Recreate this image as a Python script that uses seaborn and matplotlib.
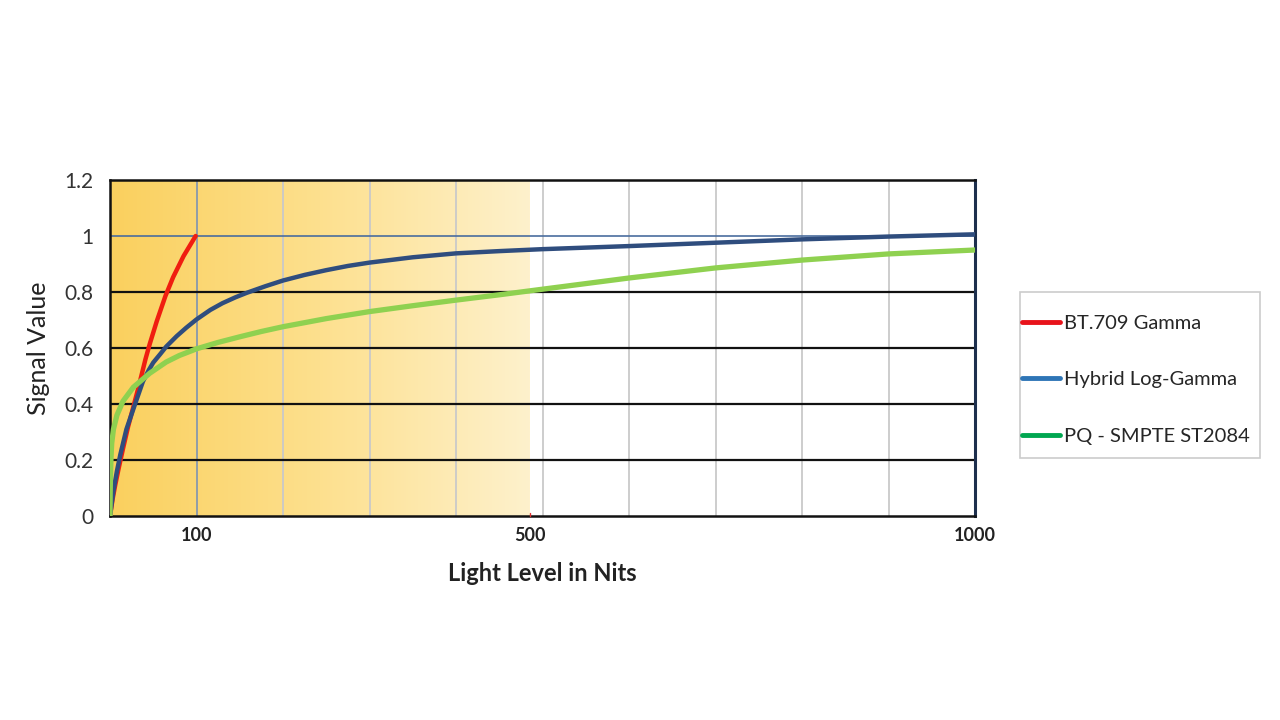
import numpy as np
import pandas as pd
import seaborn as sns
import matplotlib.pyplot as plt
from matplotlib.colors import LinearSegmentedColormap
from matplotlib.lines import Line2D
from matplotlib.patches import Rectangle

# curves (nits, signal value)
bt709_nits = [0, 3, 6, 10, 15, 21, 27, 33, 37, 41, 46, 54, 64, 73, 85, 99]
bt709_val = [0, 0.06, 0.11, 0.17, 0.24, 0.32, 0.39, 0.46, 0.51, 0.56, 0.615, 0.695, 0.785, 0.853, 0.928, 1.0]

hlg_nits = [0, 4, 8, 12, 19, 29, 38, 45, 50, 58, 65, 77, 88, 100, 116, 130, 145, 158, 180, 200, 225, 250,
            275, 300, 350, 400, 450, 500, 600, 700, 800, 900, 1000]
hlg_val = [0, 0.09, 0.16, 0.22, 0.31, 0.40, 0.48, 0.522, 0.548, 0.578, 0.605, 0.642, 0.672, 0.702, 0.736,
           0.760, 0.781, 0.797, 0.821, 0.841, 0.861, 0.878, 0.893, 0.905, 0.924, 0.938, 0.946, 0.953, 0.964,
           0.976, 0.988, 0.998, 1.006]

pq_nits = [0, 0.2, 0.6, 1.2, 2, 4, 8, 15, 27, 46, 65, 80, 100, 125, 150, 175, 200, 250, 300, 350, 400, 450,
           500, 600, 700, 800, 900, 1000]
pq_val = [0, 0.08, 0.15, 0.21, 0.26, 0.31, 0.36, 0.41, 0.46, 0.51, 0.55, 0.573, 0.597, 0.62, 0.64, 0.659,
          0.676, 0.705, 0.73, 0.751, 0.771, 0.79, 0.81, 0.85, 0.886, 0.914, 0.936, 0.95]

series_names = ["BT.709 Gamma", "Hybrid Log-Gamma", "PQ - SMPTE ST2084"]
line_colors = ["#f01d10", "#2f4d7e", "#8fd150"]
legend_colors = ["#e8131b", "#2e75b6", "#00a650"]

y_ticks = [0, 0.2, 0.4, 0.6, 0.8, 1.0, 1.2]
y_tick_labels = ["0", "0.2", "0.4", "0.6", "0.8", "1", "1.2"]
x_tick_pos = [100, 485, 1000]
x_tick_labels = ["100", "500", "1000"]
shade_end = 485

df = pd.concat([
    pd.DataFrame({"nits": bt709_nits, "val": bt709_val, "curve": series_names[0]}),
    pd.DataFrame({"nits": hlg_nits, "val": hlg_val, "curve": series_names[1]}),
    pd.DataFrame({"nits": pq_nits, "val": pq_val, "curve": series_names[2]}),
])

sns.set_style("white")
plt.rcParams["font.family"] = ["Lato", "DejaVu Sans"]

fig = plt.figure(figsize=(12.8, 7.2), dpi=100)
ax = fig.add_axes([110 / 1280, 1 - 516 / 720, 865 / 1280, 336 / 720])

# yellow fade behind the SDR range
cmap = LinearSegmentedColormap.from_list("fade", ["#fad05e", "#fde08e", "#fef1cc"])
grad = np.linspace(0, 1, 256).reshape(1, -1)
ax.imshow(grad, cmap=cmap, aspect="auto", extent=[0, shade_end, 0, 1.2], zorder=0)

# grid
for x in range(200, 1000, 100):
    ax.axvline(x, color="#c9c9c9", lw=1.3, zorder=1)
ax.axvline(100, color="#7d93b3", lw=1.2, zorder=1)
for y in [0.2, 0.4, 0.6, 0.8]:
    ax.axhline(y, color="#111111", lw=1.6, zorder=1)
ax.axhline(1.0, color="#4a6d9e", lw=1.2, zorder=1)

sns.lineplot(data=df, x="nits", y="val", hue="curve", palette=dict(zip(series_names, line_colors)),
             linewidth=3.2, sort=False, legend=False, ax=ax, zorder=3)
ax.lines[-1].set_linewidth(3.8)
for ln in ax.lines[-3:]:
    ln.set_solid_joinstyle("round")

ax.set_xlim(0, 1000)
ax.set_ylim(0, 1.2)
ax.set_yticks(y_ticks)
ax.set_yticklabels(y_tick_labels, fontsize=15, color="#333333")
ax.set_xticks(x_tick_pos)
ax.set_xticklabels(x_tick_labels, fontsize=13, fontweight="bold", color="#222222")
ax.tick_params(axis="y", length=0, pad=12)
ax.tick_params(axis="x", length=0, pad=8)
ax.plot([shade_end, shade_end], [0, 0.012], color="#e03030", lw=1, clip_on=False, zorder=4)

ax.set_xlabel("Light Level in Nits", fontsize=17, fontweight="bold", color="#222222", labelpad=13)
ax.set_ylabel("Signal Value", fontsize=18, color="#222222", labelpad=10)

for side in ["left", "bottom", "top"]:
    ax.spines[side].set_color("#111111")
    ax.spines[side].set_linewidth(1.8)
ax.spines["right"].set_color("#1d2f4d")
ax.spines["right"].set_linewidth(2.2)

# legend box drawn separately so padding can differ per side
fig.patches.append(Rectangle((1020 / 1280, 1 - 458 / 720), 240 / 1280, 166 / 720, transform=fig.transFigure,
                             facecolor="white", edgecolor="#cccccc", lw=1.2))
handles = [Line2D([], [], color=c, lw=3.5) for c in legend_colors]
leg = fig.legend(handles, series_names, loc="upper left", bbox_to_anchor=(1022 / 1280, 1 - 315 / 720),
                 frameon=False, fontsize=14.5, handlelength=1.9, handletextpad=0.2,
                 labelspacing=1.95, borderpad=0, borderaxespad=0)

fig.savefig("out.png", dpi=100, facecolor="white")
